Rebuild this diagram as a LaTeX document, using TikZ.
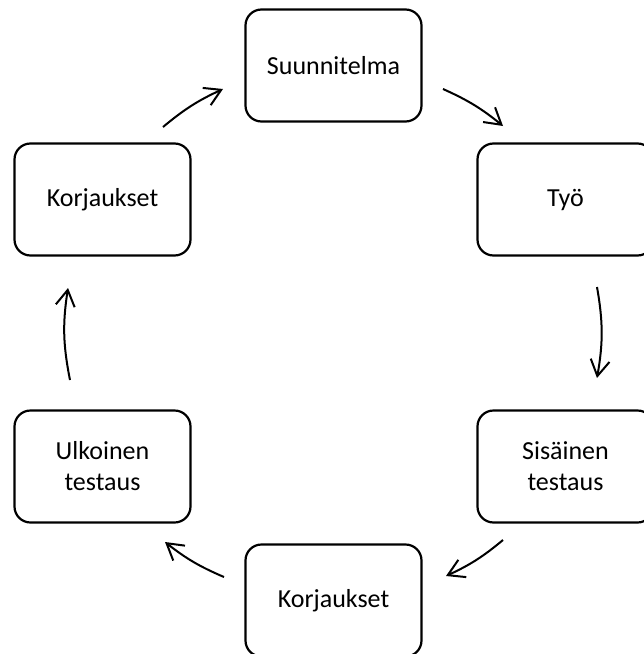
\documentclass[tikz,border=0pt]{standalone}
\usepackage{fontspec}
\setmainfont{Carlito}
\usetikzlibrary{arrows.meta}
\tikzstyle{stepbox}=[draw, line width=2.2pt, rounded corners=16pt, minimum width=176pt, minimum height=112pt, inner sep=0pt, align=center, font=\fontsize{26}{31}\selectfont]
\tikzstyle{cyc}=[line width=2pt, -{Straight Barb[length=16pt, width=19pt]}]

\begin{document}
\begin{tikzpicture}[x=1pt, y=1pt]
        \useasboundingbox (0, 0) rectangle (644, -654);
        \node[stepbox] (S1) at (333.5, -65.5) {Suunnitelma};
        \node[stepbox] (S2) at (565.5, -199.5) {Työ};
        \node[stepbox] (S3) at (565.5, -466.5) {Sisäinen\\testaus};
        \node[stepbox] (S4) at (333.5, -600.5) {Korjaukset};
        \node[stepbox] (S5) at (102.5, -466.5) {Ulkoinen\\testaus};
        \node[stepbox] (S6) at (102.5, -199.5) {Korjaukset};
        % arrow ends, on a circle round the middle
        \coordinate (a1) at (443, -89);
        \coordinate (b1) at (503, -126);
        \coordinate (a2) at (597, -287);
        \coordinate (b2) at (597, -378);
        \coordinate (a3) at (503, -540);
        \coordinate (b3) at (446, -576);
        \coordinate (a4) at (224, -577);
        \coordinate (b4) at (165, -542);
        \coordinate (a5) at (70, -380);
        \coordinate (b5) at (68, -288);
        \coordinate (a6) at (163, -127);
        \coordinate (b6) at (223, -89);
        \draw[cyc] (a1) to[bend left=7.5] (b1);
        \draw[cyc] (a2) to[bend left=10] (b2);
        \draw[cyc] (a3) to[bend left=7.5] (b3);
        \draw[cyc] (a4) to[bend left=7.5] (b4);
        \draw[cyc] (a5) to[bend left=10] (b5);
        \draw[cyc] (a6) to[bend left=7.5] (b6);
    \end{tikzpicture}
\end{document}
